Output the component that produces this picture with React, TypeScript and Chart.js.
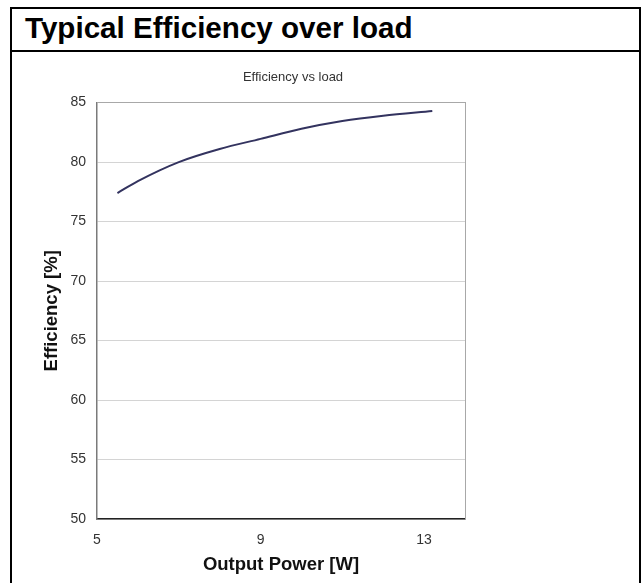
import React, { useEffect, useRef } from "react";
import { Chart, registerables } from "chart.js";

Chart.register(...registerables);

// ---- data ----
const outputPowerW = [5.5, 6, 7, 8, 9, 10, 11, 12, 13.2];
const efficiencyPct = [77.4, 78.4, 80.0, 81.1, 81.95, 82.8, 83.45, 83.9, 84.3];
const xTickValues = [5, 9, 13];
const yTickValues = [50, 55, 60, 65, 70, 75, 80, 85];

const headerText = "Typical Efficiency over load";
const chartTitle = "Efficiency vs load";
const xTitle = "Output Power [W]";
const yTitle = "Efficiency [%]";

const FONT = "'Liberation Sans', Arial, Helvetica, sans-serif";

function EfficiencyChart() {
  const ref = useRef<HTMLCanvasElement | null>(null);
  useEffect(() => {
    if (!ref.current) return;
    const chart = new Chart(ref.current, {
      type: "line",
      data: {
        datasets: [
          {
            data: outputPowerW.map((x, i) => ({ x, y: efficiencyPct[i] })),
            borderColor: "#33335f",
            borderWidth: 2,
            pointRadius: 0,
            fill: false,
            cubicInterpolationMode: "monotone",
            yAxisID: "y",
          },
        ],
      },
      options: {
        responsive: false,
        animation: false,
        layout: { padding: 0 },
        plugins: {
          legend: { display: false },
          tooltip: { enabled: false },
          title: {
            display: true,
            text: chartTitle,
            color: "#333",
            font: { family: FONT, size: 13, weight: "normal" },
            padding: { top: 18, bottom: 17 },
          },
        },
        scales: {
          x: {
            type: "linear",
            min: 5,
            max: 14,
            afterBuildTicks: (scale: any) => {
              scale.ticks = xTickValues.map((v) => ({ value: v }));
            },
            afterFit: (scale: any) => {
              scale.height = 64;
            },
            grid: { display: false },
            border: { display: true, color: "#222", width: 1.5 },
            ticks: {
              padding: 5,
              color: "#333",
              font: { family: FONT, size: 14 },
              maxRotation: 0,
            },
            title: {
              display: true,
              text: xTitle,
              color: "#111",
              font: { family: FONT, size: 18.5, weight: "bold" },
              padding: { top: 0, bottom: 7 },
            },
          },
          y: {
            type: "linear",
            position: "left",
            min: 50,
            max: 85,
            afterBuildTicks: (scale: any) => {
              scale.ticks = yTickValues.map((v) => ({ value: v }));
            },
            afterFit: (scale: any) => {
              scale.width = 85;
            },
            grid: {
              drawTicks: false,
              color: (ctx: any) => (ctx.tick && ctx.tick.value === 85 ? "#a8a8a8" : "#d4d4d4"),
              lineWidth: 1,
            },
            border: { display: true, color: "#7a7a7a", width: 1.5 },
            ticks: {
              padding: 11,
              color: "#333",
              font: { family: FONT, size: 14 },
            },
            title: {
              display: true,
              text: yTitle,
              color: "#111",
              font: { family: FONT, size: 18.5, weight: "bold" },
              padding: { top: 29, bottom: 0 },
            },
          },
          yRight: {
            type: "linear",
            position: "right",
            min: 50,
            max: 85,
            afterFit: (scale: any) => {
              scale.width = 109;
            },
            grid: { display: false, drawTicks: false },
            border: { display: true, color: "#a8a8a8", width: 1 },
            ticks: { display: false },
          },
        },
      },
    } as any);
    return () => chart.destroy();
  }, []);
  return <canvas ref={ref} width={562} height={531} style={{ display: "block" }} />;
}

export default function App() {
  return (
    <div
      style={{
        position: "fixed",
        left: 0,
        top: 0,
        width: 644,
        height: 583,
        overflow: "hidden",
        background: "#fff",
      }}
    >
      <div
        style={{
          position: "absolute",
          left: 10,
          top: 7,
          width: 631,
          height: 620,
          border: "2px solid #000",
          boxSizing: "border-box",
        }}
      />
      <div
        style={{
          position: "absolute",
          left: 10,
          top: 50,
          width: 631,
          height: 2,
          background: "#000",
        }}
      />
      <div
        style={{
          position: "absolute",
          left: 25,
          top: 13,
          fontFamily: FONT,
          fontWeight: "bold",
          fontSize: 29.6,
          lineHeight: "29px",
          color: "#000",
          whiteSpace: "nowrap",
        }}
      >
        {headerText}
      </div>
      <div style={{ position: "absolute", left: 12, top: 52 }}>
        <EfficiencyChart />
      </div>
    </div>
  );
}
